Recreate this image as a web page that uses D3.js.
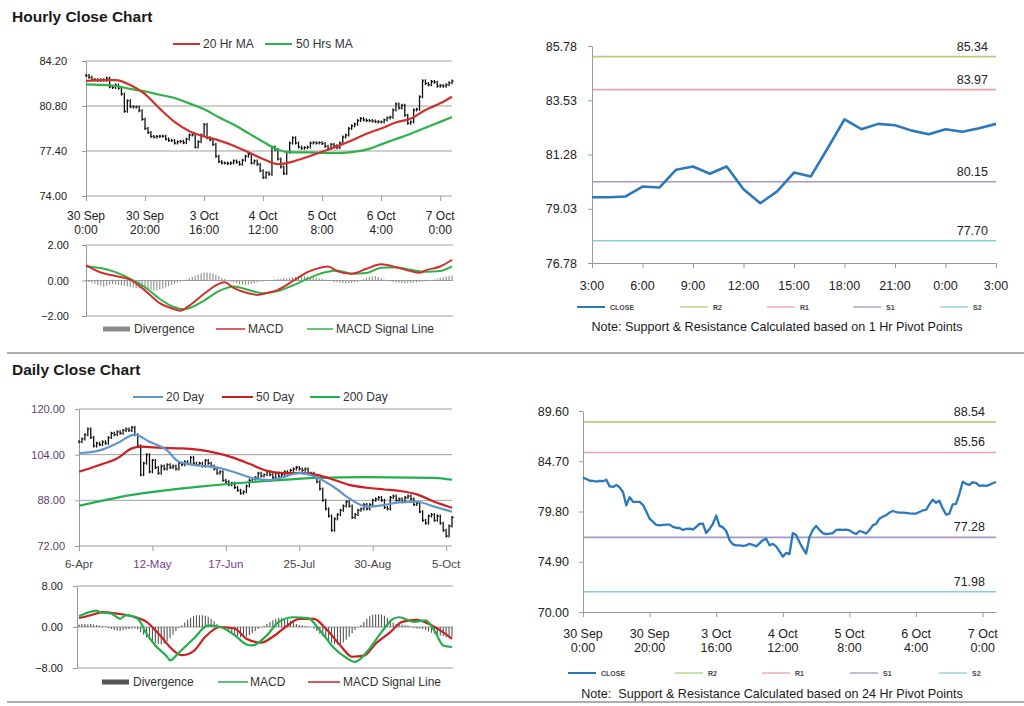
<!DOCTYPE html>
<html><head><meta charset="utf-8">
<script src="https://cdn.jsdelivr.net/npm/d3@7"></script>
<style>
body{margin:0;background:#fff;}
svg{display:block;}
</style></head><body>
<svg id="c" width="1024" height="706"></svg>
<script>
// ---------------- DATA ----------------
const hourlyClose = [83.10,82.97,82.80,82.78,82.72,82.78,82.75,82.90,82.25,82.20,
82.39,82.15,81.70,80.40,81.20,80.75,80.73,80.73,80.45,79.80,
79.10,78.80,78.50,78.45,78.50,78.52,78.52,78.30,78.20,78.19,
78.00,78.10,78.13,78.03,78.30,78.60,78.62,77.70,78.10,78.60,
79.40,78.40,78.25,77.90,77.00,76.60,76.50,76.50,76.45,76.50,
76.65,76.55,76.40,76.70,77.00,77.15,76.50,76.65,76.40,75.90,
75.40,75.76,75.65,77.70,77.50,76.80,76.20,75.70,77.30,78.00,
78.40,78.00,77.70,77.60,77.65,77.70,78.00,78.03,78.00,78.03,
77.96,77.75,77.60,77.90,77.80,77.65,78.00,78.45,78.60,79.10,
79.30,79.43,79.70,79.85,79.75,79.70,79.70,79.66,79.62,79.60,
79.60,79.75,79.90,79.95,80.50,80.95,80.65,80.85,80.10,79.50,
79.60,80.50,80.55,81.50,82.70,82.50,82.40,82.65,82.60,82.30,
82.35,82.30,82.40,82.55,82.68];
const hourlyMaIdx = [0,5,10,15,20,25,30,35,40,45,50,55,60,65,70,75,80,85,90,95,100,105,110,115,120,124];
const hourlyMa20 = [82.69,82.76,82.76,82.39,81.70,80.60,79.60,78.90,78.50,78.20,77.80,77.30,76.80,76.40,76.60,76.95,77.35,77.75,78.20,78.70,79.10,79.55,79.85,80.50,81.00,81.50];
const hourlyMa50 = [82.44,82.40,82.31,82.10,81.90,81.65,81.40,81.00,80.55,79.95,79.40,78.75,78.10,77.50,77.30,77.30,77.25,77.25,77.32,77.50,77.90,78.30,78.70,79.15,79.60,79.97];
const hourlyTickIdx = [0,20,40,60,80,100,120];
const hourlyTickLabels = ["30 Sep\n0:00","30 Sep\n20:00","3 Oct\n16:00","4 Oct\n12:00","5 Oct\n8:00","6 Oct\n4:00","7 Oct\n0:00"];
const hourlyPriceTicks = [74.00,77.40,80.80,84.20];

const hourlyMacdIdx = [0,5,10,15,20,25,30,32,35,40,45,47,50,55,58,60,65,70,75,80,82,85,90,95,100,105,110,113,115,120,124];
const hourlyMacd = [0.87,0.45,0.25,0.05,-0.57,-1.28,-1.62,-1.70,-1.42,-0.75,-0.19,-0.10,-0.42,-0.72,-0.81,-0.75,-0.53,-0.04,0.47,0.75,0.79,0.53,0.38,0.66,0.91,0.75,0.53,0.43,0.57,0.79,1.17];
const hourlySignalIdx = [0,5,10,15,20,25,30,33,35,40,45,50,55,60,65,70,75,80,85,90,95,100,105,110,115,120,124];
const hourlySignal = [0.79,0.70,0.47,0.09,-0.38,-1.04,-1.51,-1.62,-1.55,-1.13,-0.60,-0.34,-0.53,-0.72,-0.60,-0.28,0.09,0.42,0.57,0.38,0.42,0.72,0.75,0.60,0.49,0.53,0.79];
const hourlyDivergence = [-0.05,-0.08,-0.12,-0.18,
-0.25,-0.30,-0.35,-0.30,-0.25,-0.20,
-0.22,-0.25,-0.28,-0.30,-0.32,-0.35,
-0.40,-0.42,-0.45,-0.48,-0.50,-0.52,-0.55,-0.57,-0.55,-0.50,
-0.45,-0.40,-0.32,-0.25,-0.18,-0.12,-0.06,-0.02,
0.05,0.12,0.20,0.28,0.35,0.40,0.43,0.45,0.44,0.40,0.33,0.25,
0.15,0.08,0.02,-0.05,
-0.10,-0.15,-0.20,-0.22,-0.25,-0.22,-0.20,-0.15,-0.10,-0.06,
-0.04,-0.02,0.00,0.03,0.05,
0.08,0.10,0.12,0.12,0.15,
0.18,0.20,0.22,0.25,0.25,0.22,0.20,0.18,0.15,0.12,0.10,
0.06,0.02,-0.03,
-0.08,-0.10,-0.12,-0.14,-0.15,-0.14,-0.12,-0.10,-0.06,0.00,
0.08,0.14,0.20,0.24,0.25,0.20,0.14,0.06,
-0.02,-0.05,-0.08,-0.10,-0.12,-0.14,-0.15,-0.15,-0.14,-0.12,-0.10,-0.08,-0.06,-0.04,-0.02,0.00,
0.05,0.10,0.15,0.18,0.22,0.26,0.30];
const hourlyMacdTicks = [-2,0,2];

const pivotHourClose = [79.51,79.51,79.54,79.95,79.91,80.65,80.78,80.48,80.78,79.84,79.26,79.75,80.53,80.37,81.54,82.74,82.33,82.55,82.49,82.27,82.12,82.33,82.22,82.37,82.55];
const pivotHourTickIdx = [0,3,6,9,12,15,18,21,24];
const pivotHourTickLabels = ["3:00","6:00","9:00","12:00","15:00","18:00","21:00","0:00","3:00"];
const pivotHourTicks = [76.78,79.03,81.28,83.53,85.78];
const levelNames = ["R2","R1","S1","S2"];
const hourPivotLevels = [85.34,83.97,80.15,77.70];
const dayPivotLevels = [88.54,85.56,77.28,71.98];
const pivotDayTicks = [70.00,74.90,79.80,84.70,89.60];

const dailyClose = [108.5,109.5,111,113,110,107,108,107.5,108.5,108,
110,111.5,111,112,111.5,112.5,113,112.5,113.5,111,
107,97,101,104,98,102,99.5,97.5,100,99,
100.5,99.5,100,99,101,100.5,101.5,100.8,103,101,
100.5,101,100,102,101,100,99,97.5,98,95,
94.5,93.5,94,92.5,91.5,90.5,91,93,95,95.5,
96,97.5,96.5,97,98,97,96,97.5,96.5,97,
98,97.5,98.5,99,99.5,99,98.5,99,97.5,97.5,
96,94.5,92,88,85,82.5,77.5,81.5,83,84.5,
86,87.5,86,82,83,84.5,85,86.5,85,86.5,
88,88.5,89,88,85.5,85,89,89.5,88,88.5,
87.5,89,89.5,88.5,86.5,87,84,81,80,82.5,
83,81,82.5,80,77.5,75.5,79,82];
const dailyMa20Idx = [0,7,13,19,24,30,34,41,48,54,59,65,69,75,81,87,92,98,104,109,115,121,127];
const dailyMa20 = [104.5,105.5,108,111,108.5,105.5,101.5,100.2,99.3,97.5,95.8,95.1,96,97.5,96,92.5,88.7,85.8,86.4,87.3,87.5,85.8,84.0];
const dailyMa50Idx = [0,7,13,18,21,28,35,45,53,58,64,70,75,81,87,92,98,104,109,115,121,127];
const dailyMa50 = [98.0,100.4,102.7,106.2,106.8,106.4,106.2,105.0,102.8,100.8,98.3,97.5,97.6,96.9,95.1,93.4,92.4,91.8,91.3,90.1,87.5,85.4];
const dailyMa200Idx = [0,18,41,64,81,98,121,127];
const dailyMa200 = [86.1,89.9,92.8,94.8,95.9,96.1,95.9,95.2];
const dailyTickIdx = [0,25,50,75,100,125];
const dailyTickLabels = ["6-Apr","12-May","17-Jun","25-Jul","30-Aug","5-Oct"];
const dailyPriceTicks = [72,88,104,120];

const dailyMacdIdx = [0,3,6,7,11,14,16,20,23,26,30,31,34,39,44,48,53,57,59,64,68,73,78,82,87,91,94,98,103,107,109,114,118,121,124,127];
const dailyMacd = [2.1,2.8,3.2,2.9,2.6,1.6,2.3,1.6,-1.3,-3.6,-5.8,-6.5,-5.0,-2.3,0.3,0.0,-1.6,-3.4,-3.6,-1.6,1.0,1.9,1.75,-0.65,-4.2,-6.0,-6.8,-4.9,-1.0,1.6,1.9,1.0,1.3,-0.65,-3.6,-3.9];
const dailySignalIdx = [0,4,8,13,18,23,28,32,35,39,43,48,53,57,62,66,71,75,80,84,89,93,97,101,106,110,115,119,123,127];
const dailySignal = [1.75,2.3,2.9,2.6,2.1,1.0,-1.9,-4.5,-5.5,-4.7,-1.9,0.0,-0.3,-2.3,-3.05,-1.9,0.3,1.6,1.6,-0.3,-3.6,-5.8,-5.6,-3.25,-1.0,1.0,1.4,0.65,-0.65,-2.3];
const dailyDivergence = [0.5,0.6,0.6,0.5,0.6,0.5,0.4,
0.3,0.2,0.1,
-0.2,-0.4,-0.6,-0.7,-0.8,-0.6,-0.5,-0.4,
-0.3,-0.3,-0.5,
-1.0,-1.5,-2.0,-2.4,-2.8,-3.1,-3.3,-3.4,-3.2,-2.8,-2.2,-1.5,-0.8,
-0.2,0.3,
0.9,1.4,1.8,2.1,2.3,2.3,2.3,2.2,2.0,1.6,1.1,
0.6,0.3,0.0,
-0.4,-0.8,-1.2,-1.5,-1.8,-2.0,-2.0,-1.9,-1.6,-1.2,-0.8,-0.4,
-0.1,0.2,
0.6,1.0,1.3,1.6,1.8,1.8,1.7,1.5,1.2,0.9,0.6,
0.4,0.3,0.2,0.1,0.0,-0.3,
-0.8,-1.3,-1.8,-2.3,-2.7,-3.0,-3.3,-3.4,-3.3,-3.0,-2.5,-1.9,-1.2,
-0.6,-0.1,0.4,
1.0,1.6,2.1,2.4,2.5,2.5,2.4,2.2,1.8,1.3,0.9,
0.6,0.5,0.5,0.4,0.3,0.1,
-0.2,-0.3,-0.3,-0.4,-0.6,
-0.9,-1.1,-1.3,-1.5,-1.7,-1.8,-2.0,-2.0,-2.0];
const dailyMacdTicks = [-8,0,8];

// ---------------- DRAWING ----------------
const svg = d3.select("#c");
const F = "Arial, 'Liberation Sans', Helvetica, sans-serif";
const fmt = d3.format(".2f");
const levelColors = ["#b3cf7a","#e9a3a6","#a895c8","#86cde4"];

function styleAxis(g, size, color) {
  g.attr("font-family", F).attr("font-size", size);
  g.select(".domain").attr("stroke", "#9a9a9a");
  g.selectAll(".tick line").attr("stroke", "#9a9a9a");
  g.selectAll(".tick text").attr("fill", color);
}
function yAxis(x0, y, ticks, labelRight, size, color) {
  const ax = d3.axisLeft(y).tickValues(ticks).tickFormat(fmt)
    .tickSizeInner(4).tickSizeOuter(0).tickPadding(x0 - labelRight - 4);
  svg.append("g").attr("transform", `translate(${x0},0)`).call(ax).call(g => styleAxis(g, size, color));
}
function grid(x0, x1, y, ticks) {
  svg.append("g").selectAll("line").data(ticks).join("line")
    .attr("x1", x0).attr("x2", x1).attr("y1", d => y(d)).attr("y2", d => y(d))
    .attr("stroke", "#9f9f9f").attr("stroke-width", 1);
}
function xAxis(x, yPos, idx, labels, size, colors, lineGap, firstOffset, drawDomain) {
  const ax = d3.axisBottom(x).tickValues(idx).tickFormat("").tickSizeInner(5).tickSizeOuter(0);
  const g = svg.append("g").attr("transform", `translate(0,${yPos})`).call(ax);
  styleAxis(g, size, "#222");
  if (!drawDomain) g.select(".domain").remove();
  idx.forEach((d, i) => {
    const t = svg.append("text").attr("text-anchor", "middle").attr("font-family", F)
      .attr("font-size", size).attr("fill", colors ? colors[i] : "#222")
      .attr("y", yPos + firstOffset);
    labels[i].split("\n").forEach((l, j) => t.append("tspan").attr("x", x(d)).attr("dy", j === 0 ? 0 : lineGap).text(l));
  });
}
function hlBars(x, y, closes) {
  const g = svg.append("g").attr("stroke", "#111").attr("stroke-width", 1.3);
  const prev = i => closes[Math.max(i - 1, 0)];
  g.selectAll("line.v").data(closes).join("line").attr("class", "v")
    .attr("x1", (d, i) => x(i)).attr("x2", (d, i) => x(i))
    .attr("y1", (d, i) => y(Math.max(d, prev(i))) - 1.5)
    .attr("y2", (d, i) => y(Math.min(d, prev(i))) + 1.5);
  g.selectAll("line.c").data(closes).join("line").attr("class", "c")
    .attr("x1", (d, i) => x(i)).attr("x2", (d, i) => x(i) + 1.6)
    .attr("y1", d => y(d)).attr("y2", d => y(d));
}
function path(idx, vals, x, y, color, w, curve) {
  const line = d3.line().x((d, i) => x(idx[i])).y(d => y(d));
  if (curve) line.curve(d3.curveMonotoneX);
  svg.append("path").datum(vals).attr("d", line).attr("fill", "none")
    .attr("stroke", color).attr("stroke-width", w).attr("stroke-linejoin", "round");
}
function divBars(x, y, vals, color, w) {
  svg.append("g").selectAll("line").data(vals).join("line")
    .attr("x1", (d, i) => x(i)).attr("x2", (d, i) => x(i))
    .attr("y1", y(0)).attr("y2", d => y(d))
    .attr("stroke", color).attr("stroke-width", w);
}
function txt(x, y, s, size, opts = {}) {
  return svg.append("text").attr("x", x).attr("y", y).text(s).attr("font-family", F)
    .attr("font-size", size).attr("fill", opts.fill || "#222")
    .attr("font-weight", opts.weight || "normal").attr("text-anchor", opts.anchor || "start")
    .style("white-space", "pre");
}
function legLine(x1, x2, y, color, w) {
  svg.append("line").attr("x1", x1).attr("x2", x2).attr("y1", y).attr("y2", y).attr("stroke", color).attr("stroke-width", w);
}
function sep(y) {
  svg.append("line").attr("x1", 7).attr("x2", 1024).attr("y1", y).attr("y2", y).attr("stroke", "#adadad").attr("stroke-width", 2);
}

// ===== Hourly Close Chart =====
txt(12, 22, "Hourly Close Chart", 15.5, {weight: "bold", fill: "#1a1a1a"});
legLine(173, 200, 44, "#d0312d", 2); txt(203, 48, "20 Hr MA", 12, {fill: "#333"});
legLine(265, 292, 44, "#2db34a", 2); txt(296, 48, "50 Hrs MA", 12, {fill: "#333"});

const hx = d3.scaleLinear().domain([0, 124]).range([86, 452]);
const hy = d3.scaleLinear().domain([74, 84.2]).range([196, 61]);
grid(86, 452, hy, hourlyPriceTicks);
yAxis(86, hy, hourlyPriceTicks, 67, 11, "#222");
xAxis(hx, 196, hourlyTickIdx, hourlyTickLabels, 12, null, 14, 24, false);
hlBars(hx, hy, hourlyClose);
path(hourlyMaIdx, hourlyMa50, hx, hy, "#2db34a", 2.2, true);
path(hourlyMaIdx, hourlyMa20, hx, hy, "#d0312d", 2.2, true);

// Hourly MACD
const hmy = d3.scaleLinear().domain([-2, 2]).range([316, 245]);
grid(86, 453, hmy, hourlyMacdTicks);
yAxis(86, hmy, hourlyMacdTicks, 69, 11, "#222");
divBars(hx, hmy, hourlyDivergence, "#8a8a8a", 1.1);
path(hourlySignalIdx, hourlySignal, hx, hmy, "#2db34a", 2, true);
path(hourlyMacdIdx, hourlyMacd, hx, hmy, "#d0312d", 2, true);
svg.append("rect").attr("x", 103).attr("y", 326.5).attr("width", 27).attr("height", 5).attr("fill", "#8a8a8a");
txt(134, 333, "Divergence", 12, {fill: "#333"});
legLine(216, 245, 329, "#d0312d", 1.5); txt(248, 333, "MACD", 12, {fill: "#333"});
legLine(307, 333, 329, "#2db34a", 1.5); txt(336, 333, "MACD Signal Line", 12, {fill: "#333"});

// ===== pivot panels =====
function pivotPanel(o) {
  const x = o.x, y = o.y;
  o.levels.forEach((v, i) => {
    svg.append("line").attr("x1", x.range()[0]).attr("x2", x.range()[1]).attr("y1", y(v)).attr("y2", y(v))
      .attr("stroke", levelColors[i]).attr("stroke-width", 1.6);
    txt(o.valRight, y(v) - 6, fmt(v), 12.5, {anchor: "end", fill: "#222"});
  });
  yAxis(x.range()[0], y, o.ticks, o.labelRight, 12.5, "#222");
  xAxis(x, y.range()[0], o.tickIdx, o.tickLabels, 12.5, null, 14, o.labelOffset, true);
  const line = d3.line().x((d, i) => x(i)).y(d => y(d));
  svg.append("path").datum(o.close).attr("d", line).attr("fill", "none")
    .attr("stroke", "#2a78be").attr("stroke-width", o.closeW).attr("stroke-linejoin", "round");
  const names = ["CLOSE"].concat(levelNames);
  const cols = ["#2a78be"].concat(levelColors);
  o.legX.forEach((lx, i) => {
    legLine(lx, lx + 28, o.legY, cols[i], i === 0 ? 2 : 1.3);
    txt(lx + 33, o.legY + 2.5, names[i], 7, {weight: "bold", fill: "#444"});
  });
  txt(o.noteX, o.noteY, o.note, 12.6, {anchor: "middle", fill: "#1a1a1a"});
}
pivotPanel({
  x: d3.scaleLinear().domain([0, 24]).range([592, 996]),
  y: d3.scaleLinear().domain([76.78, 85.78]).range([263, 46]),
  levels: hourPivotLevels, ticks: pivotHourTicks, labelRight: 577, valRight: 988,
  tickIdx: pivotHourTickIdx, tickLabels: pivotHourTickLabels, labelOffset: 27,
  close: pivotHourClose, closeW: 2.6,
  legX: [577, 680, 767, 853, 940], legY: 307,
  note: "Note: Support & Resistance Calculated based on 1 Hr Pivot Points", noteX: 777, noteY: 331
});

sep(353);

// ===== Daily Close Chart =====
txt(12, 375, "Daily Close Chart", 15.5, {weight: "bold", fill: "#1a1a1a"});
legLine(133, 163, 397, "#6395cd", 2); txt(166, 401, "20 Day", 12, {fill: "#333"});
legLine(222, 253, 397, "#cc2020", 2); txt(256, 401, "50 Day", 12, {fill: "#333"});
legLine(310, 340, 397, "#21b04b", 2); txt(343, 401, "200 Day", 12, {fill: "#333"});

const dx = d3.scaleLinear().domain([0, 127]).range([79, 452]);
const dy = d3.scaleLinear().domain([72, 120]).range([546, 409]);
grid(79, 452, dy, dailyPriceTicks);
yAxis(79, dy, dailyPriceTicks, 65, 11, "#5a3f66");
xAxis(dx, 546, dailyTickIdx, dailyTickLabels, 11.5, ["#444", "#7a3a9a", "#7a3a9a", "#444", "#444", "#444"], 14, 22, false);
hlBars(dx, dy, dailyClose);
path(dailyMa200Idx, dailyMa200, dx, dy, "#21b04b", 2.2, true);
path(dailyMa50Idx, dailyMa50, dx, dy, "#cc2020", 2.2, true);
path(dailyMa20Idx, dailyMa20, dx, dy, "#6395cd", 2.2, true);

// Daily MACD
const dmy = d3.scaleLinear().domain([-8, 8]).range([668, 586]);
grid(77, 453, dmy, dailyMacdTicks);
yAxis(77, dmy, dailyMacdTicks, 63, 11, "#222");
divBars(dx, dmy, dailyDivergence, "#555", 1.1);
path(dailySignalIdx, dailySignal, dx, dmy, "#cc2020", 2.2, true);
path(dailyMacdIdx, dailyMacd, dx, dmy, "#21b04b", 2.2, true);
svg.append("rect").attr("x", 102).attr("y", 679.5).attr("width", 27).attr("height", 5).attr("fill", "#555");
txt(133, 686, "Divergence", 12, {fill: "#333"});
legLine(218, 248, 682, "#21b04b", 1.5); txt(250, 686, "MACD", 12, {fill: "#333"});
legLine(308, 340, 682, "#cc2020", 1.5); txt(343, 686, "MACD Signal Line", 12, {fill: "#333"});

pivotPanel({
  x: d3.scaleLinear().domain([0, 124]).range([583, 996]),
  y: d3.scaleLinear().domain([70, 89.6]).range([612, 411]),
  levels: dayPivotLevels, ticks: pivotDayTicks, labelRight: 569, valRight: 985,
  tickIdx: hourlyTickIdx, tickLabels: hourlyTickLabels, labelOffset: 26,
  close: hourlyClose, closeW: 2.3,
  legX: [568, 675, 762, 850, 939], legY: 673,
  note: "Note:  Support & Resistance Calculated based on 24 Hr Pivot Points", noteX: 772, noteY: 698
});

sep(702);
</script>
</body></html>
